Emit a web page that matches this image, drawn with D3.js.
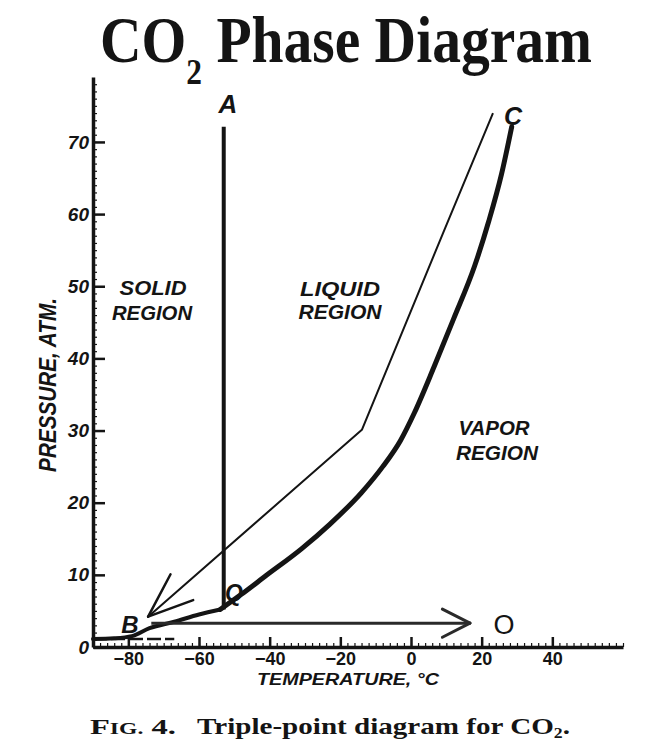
<!DOCTYPE html>
<html><head><meta charset="utf-8">
<script src="https://cdn.jsdelivr.net/npm/d3@7"></script>
<style>html,body{margin:0;padding:0;background:#fff;}svg{display:block}</style>
</head><body>
<svg id="c" width="645" height="744"></svg>
<script>
// ---- data (temperature °C, pressure atm) ----
const vaporTemp = [-54, -48, -41, -31, -23, -14, -8, -3, 1, 6.5, 12, 18, 22, 25.6, 28.5];
const vaporPres = [5.2, 7.3, 9.9, 13.6, 17.0, 21.4, 25.0, 28.6, 32.5, 38.8, 45.4, 52.8, 59.0, 65.5, 72.1];
const sublTemp = [-90, -84, -79, -74, -67, -60, -54];
const sublPres = [1.1, 1.2, 1.5, 2.6, 3.5, 4.5, 5.2];
const tailTemp = [-90, -67];
const tailPres = [1.1, 1.1];
const pathTemp = [23.2, 9.1, -13.9, -74.4];
const pathPres = [74.0, 57.4, 30.1, 4.2];
const lineATemp = [-53, -53];
const lineAPres = [5.2, 72.1];
const arrowTemp = [-73.5, 16.7];
const arrowPres = [3.3, 3.3];
const xTicks = [-80, -60, -40, -20, 0, 20, 40];
const yTicks = [0, 10, 20, 30, 40, 50, 60, 70];
const pointNames = ["A", "B", "C", "Q", "O"];
const regionNames = [["SOLID", "REGION"], ["LIQUID", "REGION"], ["VAPOR", "REGION"]];
const titleParts = ["CO", "2", " Phase Diagram"];
const captionParts = ["F", "IG.", " 4.", "Triple-point diagram for CO", "2", "."];
const xTitle = "TEMPERATURE, °C";
const yTitle = "PRESSURE, ATM.";

// ---- setup ----
const svg = d3.select("#c");
const ink = "#141414";
const sans = "'Liberation Sans', Arial, sans-serif";
const serif = "'Liberation Serif', 'Times New Roman', serif";
const x = d3.scaleLinear().domain([-90, 60]).range([93, 623]);
const y = d3.scaleLinear().domain([0, 79]).range([647, 77]);

function fit(sel, w) {
  const n = sel.node();
  const bw = n.getBBox().width;
  const tx = +sel.attr("x"), ty = +sel.attr("y");
  const s = w / bw;
  sel.attr("transform", `translate(${tx},${ty}) scale(${s},1) translate(${-tx},${-ty})`);
}
const zip = (a, b) => a.map((t, i) => ({t, p: b[i]}));

// ---- axes ----
const gxMinor = svg.append("g").attr("transform", `translate(0,${y(0)})`)
  .call(d3.axisBottom(x).tickValues(d3.range(-90, 61, 2)).tickSizeInner(-4).tickSizeOuter(0).tickFormat(""));
gxMinor.select(".domain").remove();
gxMinor.selectAll("line").attr("stroke", ink).attr("stroke-width", 1.2);
const gyMinor = svg.append("g").attr("transform", `translate(${x(-90)},0)`)
  .call(d3.axisLeft(y).tickValues(d3.range(0, 79, 1)).tickSizeInner(-4).tickSizeOuter(0).tickFormat(""));
gyMinor.select(".domain").remove();
gyMinor.selectAll("line").attr("stroke", ink).attr("stroke-width", 1.2);

const gx = svg.append("g").attr("transform", `translate(0,${y(0)})`)
  .call(d3.axisBottom(x).tickValues(xTicks).tickSizeInner(-10).tickSizeOuter(0).tickPadding(5));
gx.select(".domain").attr("stroke", ink).attr("stroke-width", 3.5);
gx.selectAll(".tick line").attr("stroke", ink).attr("stroke-width", 2.5);
gx.selectAll(".tick text").attr("fill", ink).attr("font-family", sans).attr("font-weight", "bold").attr("font-size", 18);

const gy = svg.append("g").attr("transform", `translate(${x(-90)},0)`)
  .call(d3.axisLeft(y).tickValues(yTicks).tickSizeInner(-12).tickSizeOuter(0).tickPadding(4));
gy.select(".domain").attr("stroke", ink).attr("stroke-width", 3.5);
gy.selectAll(".tick line").attr("stroke", ink).attr("stroke-width", 2.5);
gy.selectAll(".tick text").attr("fill", ink).attr("font-family", sans).attr("font-weight", "bold")
  .attr("font-style", "italic").attr("font-size", 19);

// ---- curves ----
const lineMono = d3.line().x(d => x(d.t)).y(d => y(d.p)).curve(d3.curveMonotoneX);
const lineLin = d3.line().x(d => x(d.t)).y(d => y(d.p));

svg.append("path").datum(zip(tailTemp, tailPres)).attr("d", lineLin)
  .attr("fill", "none").attr("stroke", ink).attr("stroke-width", 2.5).attr("stroke-dasharray", "14,4");
svg.append("path").datum(zip(sublTemp, sublPres)).attr("d", lineMono)
  .attr("fill", "none").attr("stroke", ink).attr("stroke-width", 4).attr("stroke-linecap", "round");
svg.append("path").datum(zip(vaporTemp, vaporPres)).attr("d", lineMono)
  .attr("fill", "none").attr("stroke", ink).attr("stroke-width", 5).attr("stroke-linecap", "round");
svg.append("path").datum(zip(lineATemp, lineAPres)).attr("d", lineLin)
  .attr("fill", "none").attr("stroke", ink).attr("stroke-width", 4);
svg.append("path").datum(zip(pathTemp, pathPres)).attr("d", lineLin)
  .attr("fill", "none").attr("stroke", ink).attr("stroke-width", 2).attr("stroke-linejoin", "round");
svg.append("path").datum(zip(arrowTemp, arrowPres)).attr("d", lineLin)
  .attr("fill", "none").attr("stroke", "#2a2a2a").attr("stroke-width", 3);

// arrowheads (open chevrons) computed from line ends
function chevron(tipT, tipP, prevT, prevP, ang, len, w, col) {
  const tx = x(tipT), ty = y(tipP), px = x(prevT), py = y(prevP);
  const a = Math.atan2(py - ty, px - tx);
  [ang, -ang].forEach(da => {
    const b = a + da * Math.PI / 180;
    svg.append("line").attr("x1", tx).attr("y1", ty)
      .attr("x2", tx + len * Math.cos(b)).attr("y2", ty + len * Math.sin(b))
      .attr("stroke", col).attr("stroke-width", w).attr("stroke-linecap", "round");
  });
}
const nP = pathTemp.length;
chevron(pathTemp[nP - 1], pathPres[nP - 1], pathTemp[nP - 2], pathPres[nP - 2], 21, 48, 2.5, ink);
chevron(arrowTemp[1], arrowPres[1], arrowTemp[0], arrowPres[0], 27, 31, 3, "#2a2a2a");

// ---- point labels ----
const pointPos = {A: [228, 113, 26], B: [130, 633, 24], C: [513, 125, 25], Q: [234, 601, 23], O: [504, 634, 27]};
pointNames.forEach(n => {
  const [px, py, fs] = pointPos[n];
  svg.append("text").attr("x", px).attr("y", py).attr("text-anchor", "middle")
    .attr("font-family", sans).attr("font-size", fs)
    .attr("font-weight", n === "O" ? "normal" : "bold").attr("font-style", n === "O" ? "normal" : "italic")
    .attr("fill", ink).text(n);
});

// ---- region labels ----
const regionPos = [[153, 295, 67, 152, 320, 81], [340, 296, 80, 340, 319, 84], [494, 435, 72, 497, 460, 83]];
regionNames.forEach((pair, i) => {
  const r = regionPos[i];
  pair.forEach((word, j) => {
    const t = svg.append("text").attr("x", r[j * 3]).attr("y", r[j * 3 + 1]).attr("text-anchor", "middle")
      .attr("font-family", sans).attr("font-size", 21).attr("font-weight", "bold").attr("font-style", "italic")
      .attr("fill", ink).text(word);
    fit(t, r[j * 3 + 2]);
  });
});

// ---- axis titles ----
const xt = svg.append("text").attr("x", 257).attr("y", 685).attr("font-family", sans).attr("font-size", 17)
  .attr("font-weight", "bold").attr("font-style", "italic").attr("fill", ink).text(xTitle);
fit(xt, 183);
const yt = svg.append("text").attr("x", 0).attr("y", 0).attr("text-anchor", "middle").attr("font-family", sans)
  .attr("font-size", 24).attr("font-weight", "bold").attr("font-style", "italic").attr("fill", ink).text(yTitle);
const ytw = yt.node().getBBox().width;
yt.attr("transform", `translate(56,385) rotate(-90) scale(${174 / ytw},1)`);

// ---- title ----
const tt = svg.append("text").attr("x", 100).attr("y", 62).attr("font-family", serif)
  .attr("font-weight", "bold").attr("font-size", 66).attr("fill", ink);
tt.append("tspan").text(titleParts[0]);
tt.append("tspan").attr("font-size", 36).attr("dy", 22).text(titleParts[1]);
tt.append("tspan").attr("dy", -22).text(titleParts[2]);
fit(tt, 492);

// ---- caption ----
const c1 = svg.append("text").attr("x", 90).attr("y", 734).attr("font-family", serif)
  .attr("font-weight", "bold").attr("font-size", 22).attr("fill", ink);
c1.append("tspan").text(captionParts[0]);
c1.append("tspan").attr("font-size", 16).text(captionParts[1]);
c1.append("tspan").text(captionParts[2]);
fit(c1, 86);
const c2 = svg.append("text").attr("x", 197).attr("y", 734).attr("font-family", serif)
  .attr("font-weight", "bold").attr("font-size", 23).attr("fill", ink);
c2.append("tspan").text(captionParts[3]);
c2.append("tspan").attr("font-size", 14).attr("dy", 4).text(captionParts[4]);
c2.append("tspan").attr("dy", -4).text(captionParts[5]);
fit(c2, 373);
</script>
</body></html>
